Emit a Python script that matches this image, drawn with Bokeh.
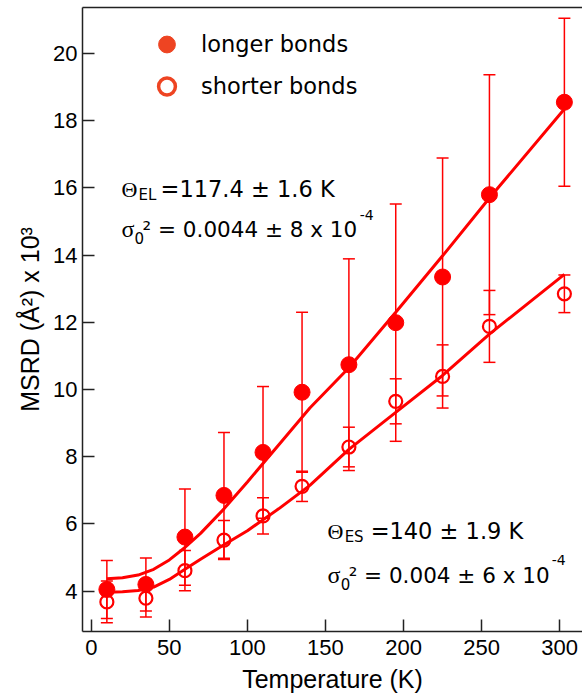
from bokeh.plotting import figure
from bokeh.models import (ColumnDataSource, Whisker, TeeHead, Label, Legend, LegendItem,
                          LinearAxis, FixedTicker, Range1d)
from bokeh.embed import file_html
from bokeh.resources import INLINE

# ---------------- data ----------------
temperature = [10, 35, 60, 85, 110, 135, 165, 195, 225, 255, 303]
msrd_longer = [4.05, 4.20, 5.61, 6.85, 8.13, 9.92, 10.74, 11.99, 13.35, 15.80, 18.55]
err_longer = [0.86, 0.79, 1.43, 1.87, 1.96, 2.38, 3.15, 3.53, 3.54, 3.57, 2.50]
msrd_shorter = [3.68, 3.79, 4.61, 5.52, 6.24, 7.12, 8.29, 9.65, 10.39, 11.88, 12.85]
err_shorter = [0.62, 0.56, 0.60, 0.58, 0.54, 0.45, 0.59, 0.67, 0.94, 1.07, 0.56]

fit_temperature = [10, 20, 30, 40, 50, 60, 70, 85, 100, 120, 140, 165, 195, 225, 255, 303]
fit_longer = [4.37, 4.40, 4.48, 4.65, 4.93, 5.30, 5.72, 6.45, 7.25, 8.35, 9.45, 10.65, 12.30, 13.98, 15.70, 18.35]
fit_shorter = [3.97, 3.98, 4.02, 4.12, 4.35, 4.65, 4.95, 5.38, 5.80, 6.45, 7.15, 8.22, 9.32, 10.42, 11.65, 13.43]

x_ticks = [0, 50, 100, 150, 200, 250, 300]
y_ticks = [4, 6, 8, 10, 12, 14, 16, 18, 20]

RED = "#ff0000"
LEG = "#ee4422"
FONT = "Liberation Sans"
TXT = "DejaVu Sans"
GREEK = "Liberation Serif"

src_l = ColumnDataSource(dict(t=temperature, v=msrd_longer,
                              lo=[v - e for v, e in zip(msrd_longer, err_longer)],
                              hi=[v + e for v, e in zip(msrd_longer, err_longer)]))
src_s = ColumnDataSource(dict(t=temperature, v=msrd_shorter,
                              lo=[v - e for v, e in zip(msrd_shorter, err_shorter)],
                              hi=[v + e for v, e in zip(msrd_shorter, err_shorter)]))

p = figure(width=582, height=697, x_range=Range1d(-5.6, 314.6), y_range=Range1d(2.8, 21.37),
           output_backend="svg", toolbar_location=None,
           min_border_left=82, min_border_right=0, min_border_top=7, min_border_bottom=66)
p.grid.visible = False
p.outline_line_color = None
p.background_fill_color = "white"
p.border_fill_color = "white"

for ax in (p.xaxis[0], p.yaxis[0]):
    ax.axis_line_color = "#222222"
    ax.axis_line_width = 1.5
    ax.major_tick_line_color = "#222222"
    ax.major_tick_line_width = 1.5
    ax.major_tick_in = 12
    ax.major_tick_out = 0
    ax.minor_tick_line_color = None
    ax.major_label_text_font = FONT
    ax.major_label_text_font_size = "22px"
    ax.major_label_text_color = "black"
    ax.axis_label_text_font = FONT
    ax.axis_label_text_font_size = "25px"
    ax.axis_label_text_font_style = "normal"
    ax.axis_label_text_color = "black"

p.xaxis.ticker = FixedTicker(ticks=x_ticks)
p.yaxis.ticker = FixedTicker(ticks=y_ticks)
p.xaxis.axis_label = "Temperature (K)"
p.yaxis.axis_label = "MSRD (Å²) x 10³"
p.xaxis.major_label_standoff = 8
p.xaxis.axis_label_standoff = 7
p.yaxis.major_label_standoff = 5
p.yaxis.axis_label_standoff = 6

top_axis = LinearAxis(ticker=FixedTicker(ticks=[]), major_label_text_font_size="0px",
                      axis_line_color="#222222", axis_line_width=1.5,
                      major_tick_in=0, major_tick_out=0, minor_tick_line_color=None)
p.add_layout(top_axis, "above")

# fits
p.line(fit_temperature, fit_longer, line_color=RED, line_width=3)
p.line(fit_temperature, fit_shorter, line_color=RED, line_width=3)

# error bars
for src in (src_l, src_s):
    w = Whisker(base="t", lower="lo", upper="hi", source=src,
                line_color=RED, line_width=1.5,
                lower_head=TeeHead(size=12, line_color=RED, line_width=1.5),
                upper_head=TeeHead(size=12, line_color=RED, line_width=1.5))
    p.add_layout(w)

# markers
p.scatter("t", "v", source=src_l, size=16, fill_color=RED, line_color=RED)
p.scatter("t", "v", source=src_s, size=13, fill_color=None, line_color=RED, line_width=2.2)

# legend glyphs (hidden renderers in the legend colour)
lr1 = p.scatter("t", "v", source=src_l, size=16, fill_color=LEG, line_color=LEG, visible=False)
lr2 = p.scatter("t", "v", source=src_s, size=14, fill_color=None, line_color=LEG,
                line_width=3.5, visible=False)
legend = Legend(items=[LegendItem(label="longer bonds", renderers=[lr1]),
                       LegendItem(label="shorter bonds", renderers=[lr2])],
                location=(62, 524), glyph_width=45, glyph_height=42, label_standoff=12,
                spacing=0, padding=0, margin=0, border_line_color=None,
                background_fill_alpha=0, label_text_font=TXT, label_text_font_size="22.5px",
                label_text_color="black", label_height=42)
p.add_layout(legend)

# annotations
def xd(px):
    return (px - 90.7) / 1.561

def yd(py):
    return 4 + (590.7 - py) / 33.6

def lab(text, px, py, size, font=TXT):
    p.add_layout(Label(x=xd(px), y=yd(py), text=text, text_font=font, text_font_size=size,
                       text_baseline="alphabetic", text_align="left", text_color="black"))

lab("Θ", 121, 189, "22px", GREEK)
lab("EL", 138, 195, "15px")
lab("=117.4 ± 1.6 K", 160, 189, "22.5px")
lab("σ", 121, 229, "24px", GREEK)
lab("0", 134, 238, "15px")
lab("² = 0.0044 ± 8 x 10", 142, 229, "21.5px")
lab("-4", 359, 215, "14px")

lab("Θ", 327, 531, "22px", GREEK)
lab("ES", 344, 537, "15px")
lab("=140 ± 1.9 K", 370, 531, "22.5px")
lab("σ", 327, 575, "24px", GREEK)
lab("0", 340, 584, "15px")
lab("² = 0.004 ± 6 x 10", 348, 575, "21.5px")
lab("-4", 551, 560, "14px")

open("out.html", "w").write(file_html(p, INLINE))
